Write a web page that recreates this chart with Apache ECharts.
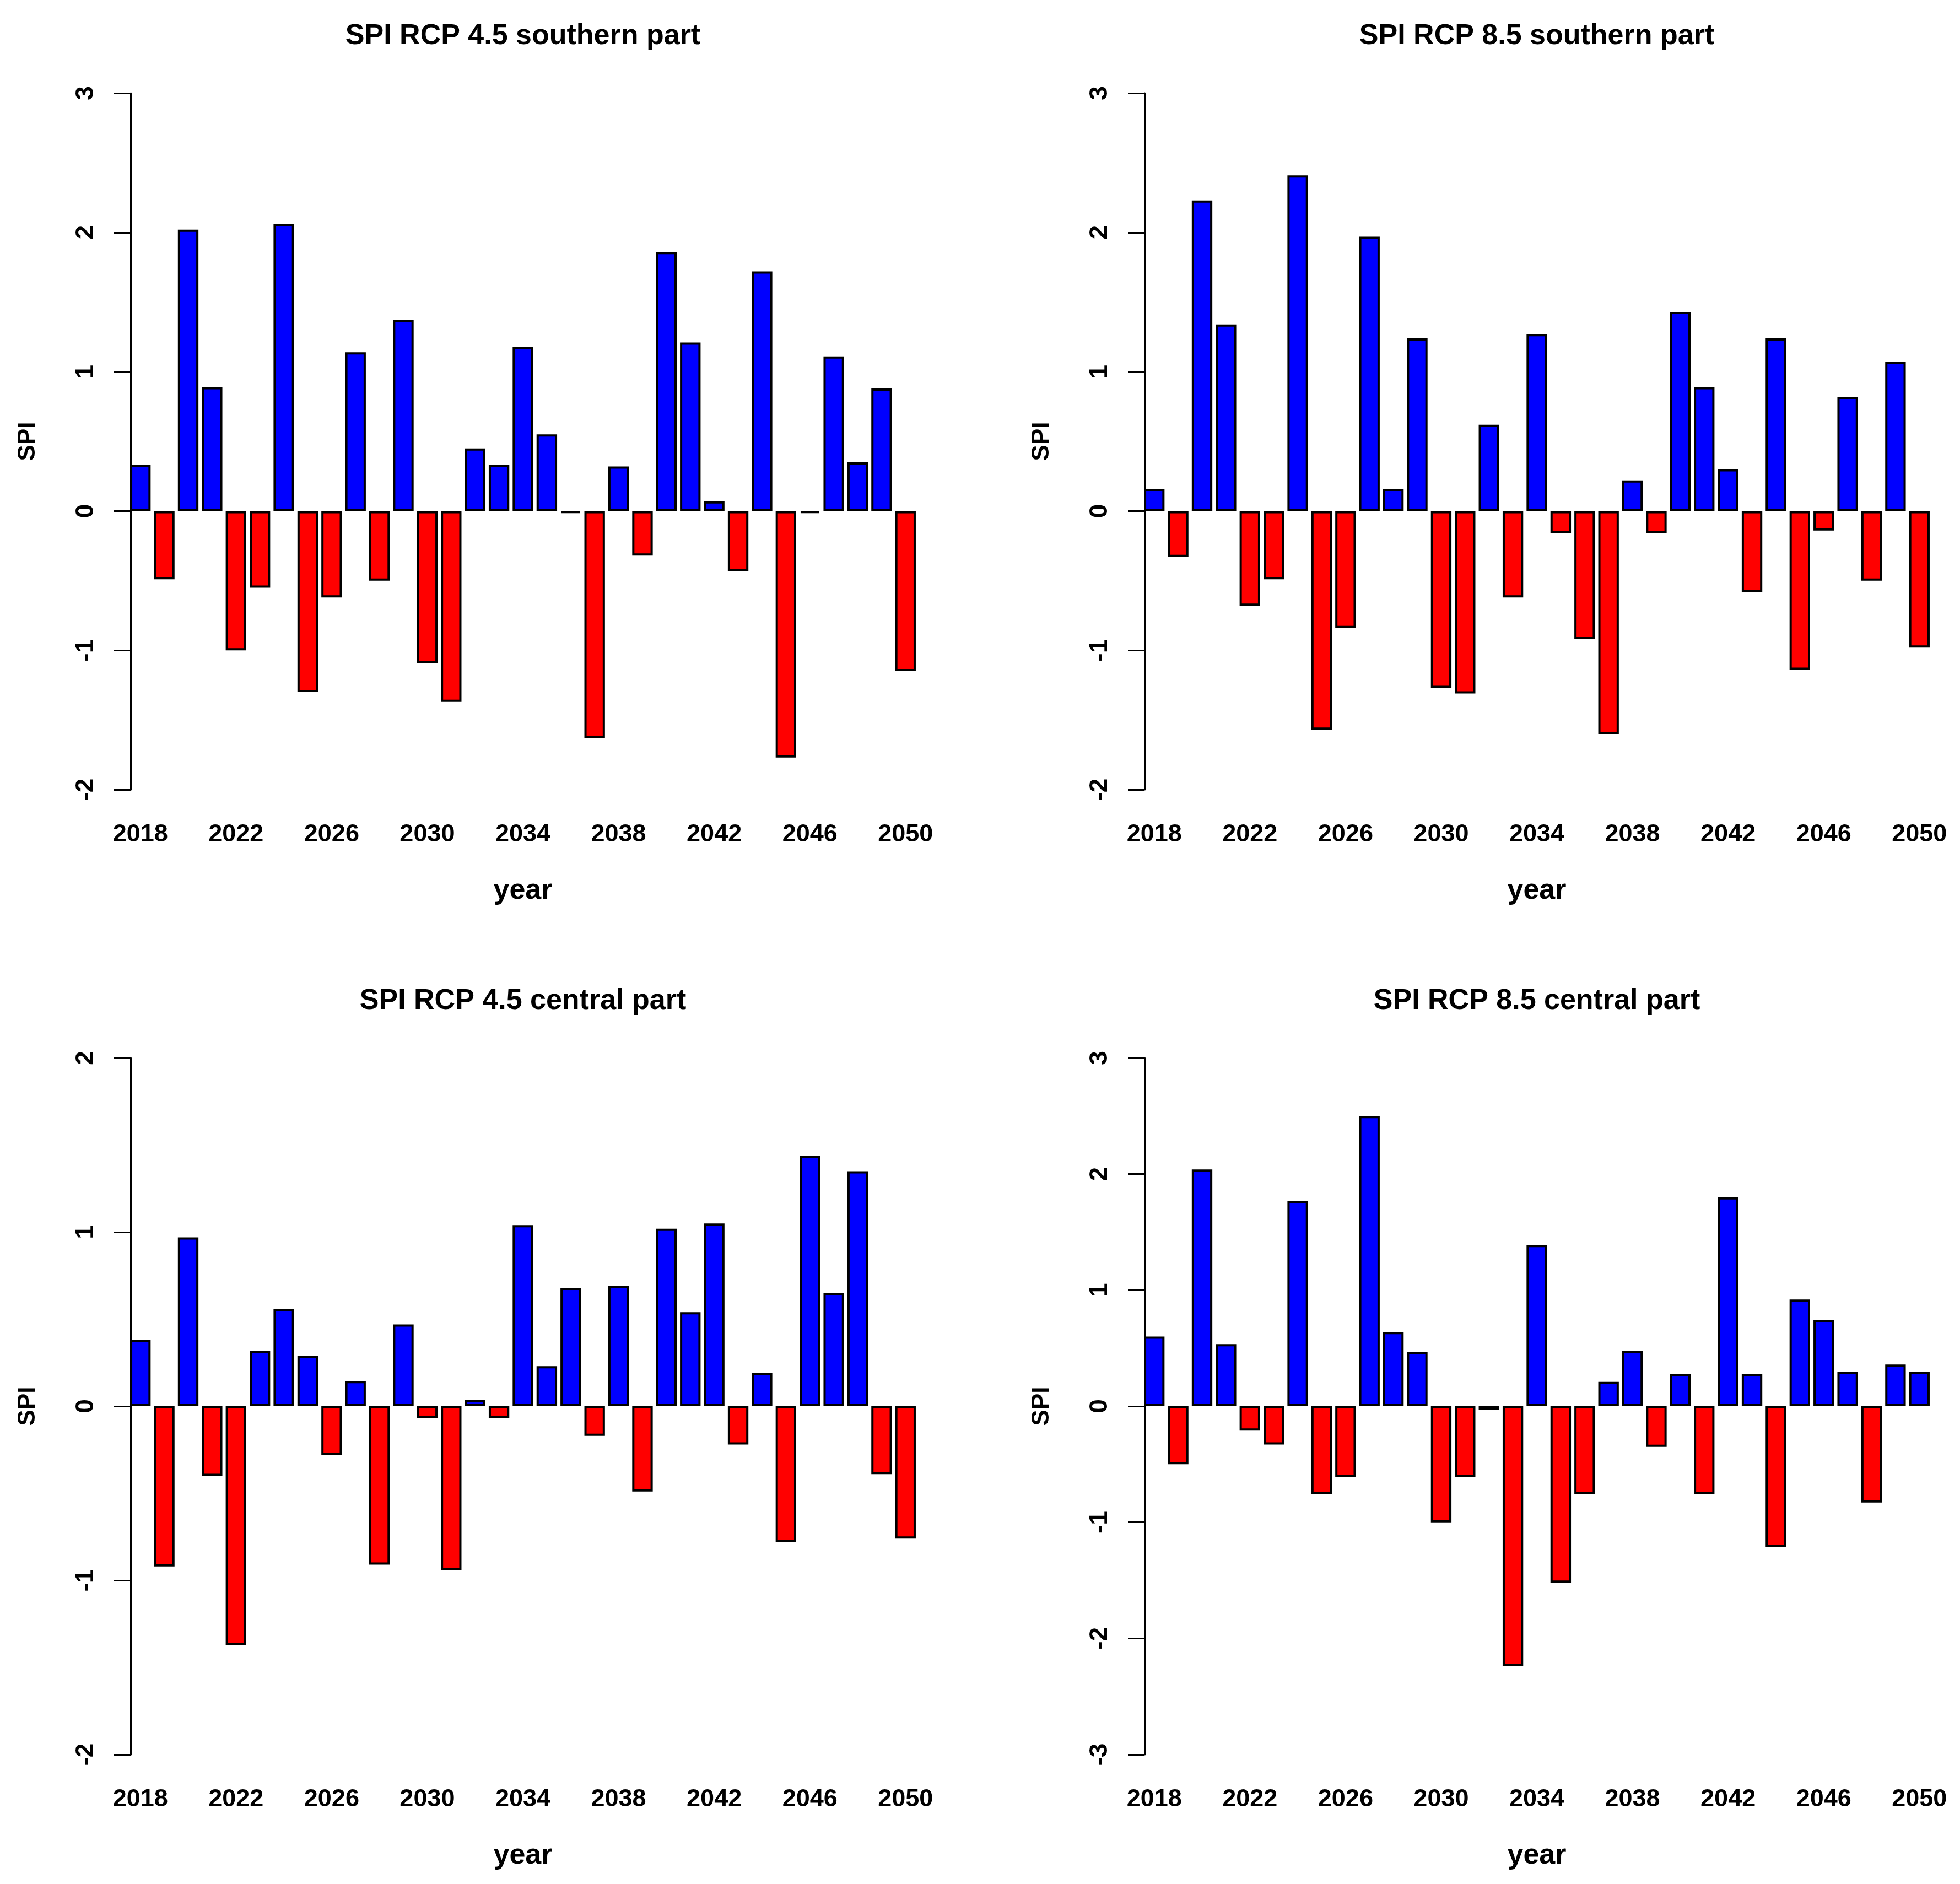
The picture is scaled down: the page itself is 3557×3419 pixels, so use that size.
<!DOCTYPE html>
<html>
<head>
<meta charset="utf-8">
<title>SPI RCP 4.5 / 8.5</title>
<script src="https://cdn.jsdelivr.net/npm/echarts@6/dist/echarts.min.js"></script>
<style>
    html, body { margin: 0; padding: 0; background: #ffffff; }
    #main { width: 3557px; height: 3419px; }
</style>
</head>
<body>
<div id="main"></div>
<script>
// years on the x axis
var years = ['2018', '2019', '2020', '2021', '2022', '2023', '2024', '2025', '2026', '2027', '2028',
    '2029', '2030', '2031', '2032', '2033', '2034', '2035', '2036', '2037', '2038', '2039',
    '2040', '2041', '2042', '2043', '2044', '2045', '2046', '2047', '2048', '2049', '2050'];

// SPI values
var spi45South = [0.33, -0.49, 2.02, 0.89, -1.00, -0.55, 2.06, -1.30, -0.62, 1.14, -0.50,
    1.37, -1.09, -1.37, 0.45, 0.33, 1.18, 0.55, -0.015, -1.63, 0.32, -0.32,
    1.86, 1.21, 0.07, -0.43, 1.72, -1.77, -0.015, 1.11, 0.35, 0.88, -1.15];

var spi85South = [0.16, -0.33, 2.23, 1.34, -0.68, -0.49, 2.41, -1.57, -0.84, 1.97, 0.16,
    1.24, -1.27, -1.31, 0.62, -0.62, 1.27, -0.16, -0.92, -1.60, 0.22, -0.16,
    1.43, 0.89, 0.30, -0.58, 1.24, -1.14, -0.14, 0.82, -0.50, 1.07, -0.98];

var spi45Central = [0.38, -0.92, 0.97, -0.40, -1.37, 0.32, 0.56, 0.29, -0.28, 0.145, -0.91,
    0.47, -0.07, -0.94, 0.035, -0.07, 1.04, 0.23, 0.68, -0.17, 0.69, -0.49,
    1.02, 0.54, 1.05, -0.22, 0.19, -0.78, 1.44, 0.65, 1.35, -0.39, -0.76];

var spi85Central = [0.60, -0.50, 2.04, 0.535, -0.21, -0.33, 1.77, -0.76, -0.61, 2.50, 0.64,
    0.47, -1.00, -0.61, -0.03, -2.24, 1.39, -1.52, -0.76, 0.21, 0.48, -0.35,
    0.275, -0.76, 1.80, 0.275, -1.21, 0.92, 0.74, 0.295, -0.83, 0.36, 0.295];

var titles = ['SPI RCP 4.5 southern part', 'SPI RCP 8.5 southern part',
    'SPI RCP 4.5 central part', 'SPI RCP 8.5 central part'];
var yMins = [-2, -2, -2, -3];
var yMaxs = [3, 3, 2, 3];

var font = "'Liberation Sans', Arial, sans-serif";

$ready();

function $ready() {
    var myChart = echarts.init(document.getElementById('main'), null, {renderer: 'canvas'});
    var panels = [spi45South, spi85South, spi45Central, spi85Central];
    // panel boxes: left, top (px)
    var lefts = [233, 2073, 233, 2073];
    var tops = [169, 169, 1920, 1920];
    var w = 1432, h = 1264;

    var option = {
        backgroundColor: '#ffffff',
        animation: false,
        title: [],
        grid: [],
        xAxis: [],
        yAxis: [],
        series: []
    };

    for (var i = 0; i < 4; i++) {
        option.title.push({
            text: titles[i],
            left: lefts[i] + w / 2,
            top: tops[i] - 129,
            textAlign: 'center',
            padding: 0,
            textStyle: {fontFamily: font, fontSize: 52, fontWeight: 'bold', color: '#000'}
        });
        option.grid.push({left: lefts[i], top: tops[i], width: w, height: h, containLabel: false});
        option.xAxis.push({
            gridIndex: i,
            type: 'category',
            data: years,
            axisLine: {show: false, onZero: false},
            axisTick: {show: false},
            splitLine: {show: false},
            axisLabel: {
                interval: 3,
                margin: 59,
                fontFamily: font, fontSize: 45, fontWeight: 'bold', color: '#000'
            },
            name: 'year',
            nameLocation: 'middle',
            nameGap: 158,
            nameTextStyle: {fontFamily: font, fontSize: 52, fontWeight: 'bold', color: '#000'}
        });
        option.yAxis.push({
            gridIndex: i,
            type: 'value',
            min: yMins[i],
            max: yMaxs[i],
            interval: 1,
            offset: -4,
            axisLine: {show: true, onZero: false, lineStyle: {color: '#000', width: 3}},
            axisTick: {show: true, length: 30, lineStyle: {color: '#000', width: 3}},
            splitLine: {show: false},
            axisLabel: {
                rotate: 90,
                margin: 58,
                fontFamily: font, fontSize: 46, fontWeight: 'bold', color: '#000'
            },
            name: 'SPI',
            nameLocation: 'middle',
            nameRotate: 90,
            nameGap: 164,
            nameTextStyle: {fontFamily: font, fontSize: 44, fontWeight: 'bold', color: '#000'}
        });
        option.series.push({
            type: 'bar',
            xAxisIndex: i,
            yAxisIndex: i,
            data: panels[i],
            barWidth: '86%',
            silent: true,
            itemStyle: {
                borderColor: '#000',
                borderWidth: 4,
                color: function (p) {
                    return p.value >= 0 ? '#0000ff' : '#ff0000'; // 正值蓝色，负值红色
                }
            }
        });
    }
    myChart.setOption(option);
}
</script>
</body>
</html>
